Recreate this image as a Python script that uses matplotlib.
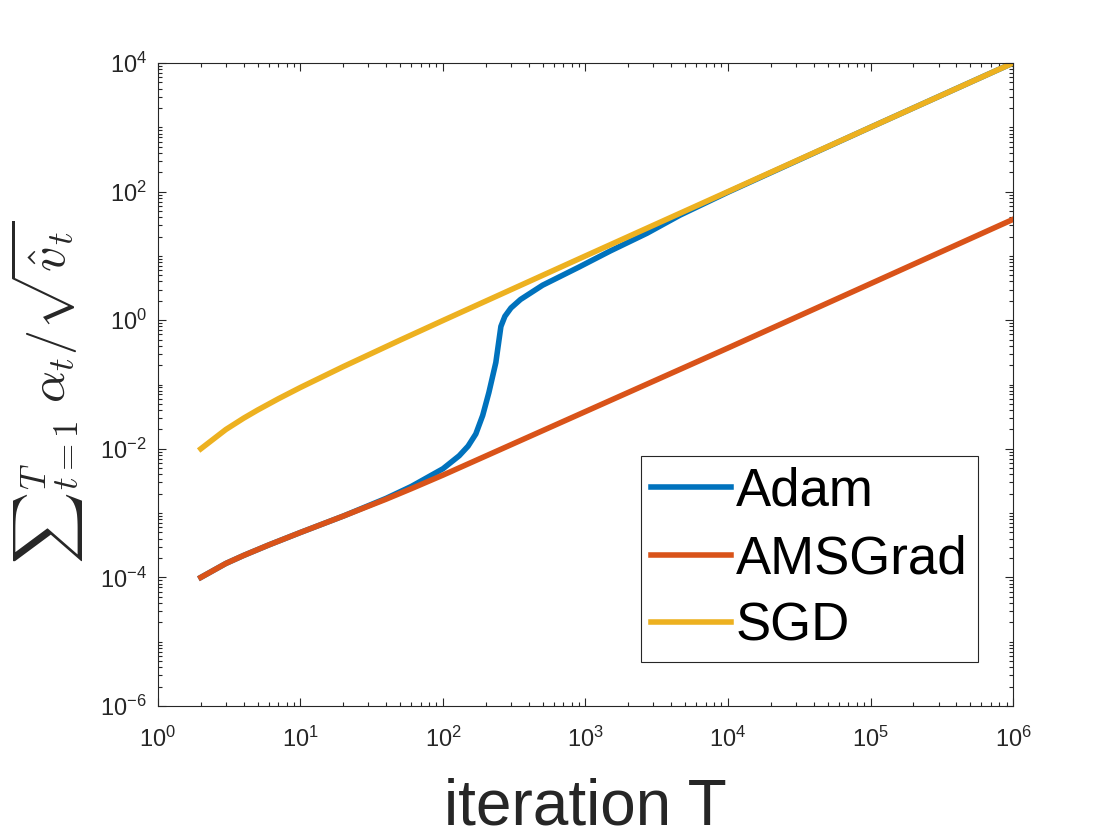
import numpy as np
import matplotlib
matplotlib.use('Agg')
import matplotlib.pyplot as plt
from matplotlib.ticker import LogLocator, FixedLocator, NullFormatter

plt.rcParams['font.family'] = ['Liberation Sans', 'DejaVu Sans']
plt.rcParams['mathtext.fontset'] = 'custom'
plt.rcParams['mathtext.rm'] = 'Liberation Sans'
plt.rcParams['mathtext.it'] = 'Liberation Sans:italic'

# valores
T_sgd = [2, 3, 4, 5, 7, 10, 20, 50, 100, 1e3, 1e4, 1e5, 1e6]
sgd = [0.010, 0.020, 0.030, 0.040, 0.060, 0.090, 0.19, 0.49, 0.99, 10, 100, 1000, 10000]

T_ams = [2, 3, 4, 6, 10, 20, 40, 60, 100, 1e3, 1e4, 1e5, 1e6]
ams = [1.0e-4, 1.65e-4, 2.2e-4, 3.2e-4, 5.0e-4, 9.0e-4, 1.65e-3, 2.4e-3, 3.9e-3,
       3.8e-2, 0.37, 3.7, 37]

T_adam = [2, 3, 4, 6, 10, 20, 40, 60, 100, 130, 150, 170, 190, 210, 235, 255, 272,
          300, 350, 500, 900, 1500, 2700, 4600, 1e4, 1e5, 1e6]
adam = [1.0e-4, 1.65e-4, 2.2e-4, 3.2e-4, 5.0e-4, 9.0e-4, 1.7e-3, 2.6e-3, 4.9e-3,
        7.8e-3, 0.011, 0.017, 0.033, 0.075, 0.22, 0.8, 1.15,
        1.55, 2.1, 3.5, 6.7, 12, 22.5, 43, 98, 1000, 10000]

colors = ['#0072BD', '#D95319', '#EDB120']
names = ['Adam', 'AMSGrad', 'SGD']

fig = plt.figure(figsize=(11.2, 8.4), dpi=100)
ax = fig.add_axes([0.141, 0.1595, 0.7635, 0.7655])

ax.plot(T_adam, adam, color=colors[0], linewidth=4, label=names[0])
ax.plot(T_ams, ams, color=colors[1], linewidth=4, label=names[1])
ax.plot(T_sgd, sgd, color=colors[2], linewidth=4, label=names[2])

ax.set_xscale('log')
ax.set_yscale('log')
ax.set_xlim(1, 1e6)
ax.set_ylim(1e-6, 1e4)

ax.xaxis.set_major_locator(FixedLocator([10.0 ** k for k in range(0, 7)]))
ax.xaxis.set_minor_locator(LogLocator(base=10, subs=np.arange(2, 10), numticks=50))
ax.yaxis.set_major_locator(FixedLocator([10.0 ** k for k in range(-6, 5, 2)]))
ax.yaxis.set_minor_locator(LogLocator(base=10, subs=np.arange(1, 10), numticks=50))
ax.xaxis.set_minor_formatter(NullFormatter())
ax.yaxis.set_minor_formatter(NullFormatter())

axcol = '#262626'
for s in ax.spines.values():
    s.set_color(axcol)
    s.set_linewidth(0.8)
ax.tick_params(which='both', direction='in', top=True, right=True,
               colors=axcol, labelsize=17, width=0.8)
ax.tick_params(which='major', length=6)
ax.tick_params(which='minor', length=3)
ax.tick_params(axis='x', which='major', pad=15)
ax.tick_params(axis='y', which='major', pad=8)

ax.set_xlabel('iteration T', fontsize=46, color=axcol, labelpad=18)
ax.set_ylabel(r'${\sum}_{t=1}^{T}\ \alpha_t/\sqrt{\hat{v}_t}$', fontsize=36,
              math_fontfamily='cm', color=axcol, labelpad=10)
ax.yaxis.label.set_y(0.488)

leg = ax.legend(loc='lower right', bbox_to_anchor=(0.959, 0.068), borderaxespad=0,
                fontsize=38, fancybox=False, framealpha=1, edgecolor=axcol,
                handlelength=1.5, handletextpad=0.1, labelspacing=0.33,
                borderpad=0.2)
leg.get_frame().set_linewidth(0.8)

plt.savefig('out.png', dpi=100)
